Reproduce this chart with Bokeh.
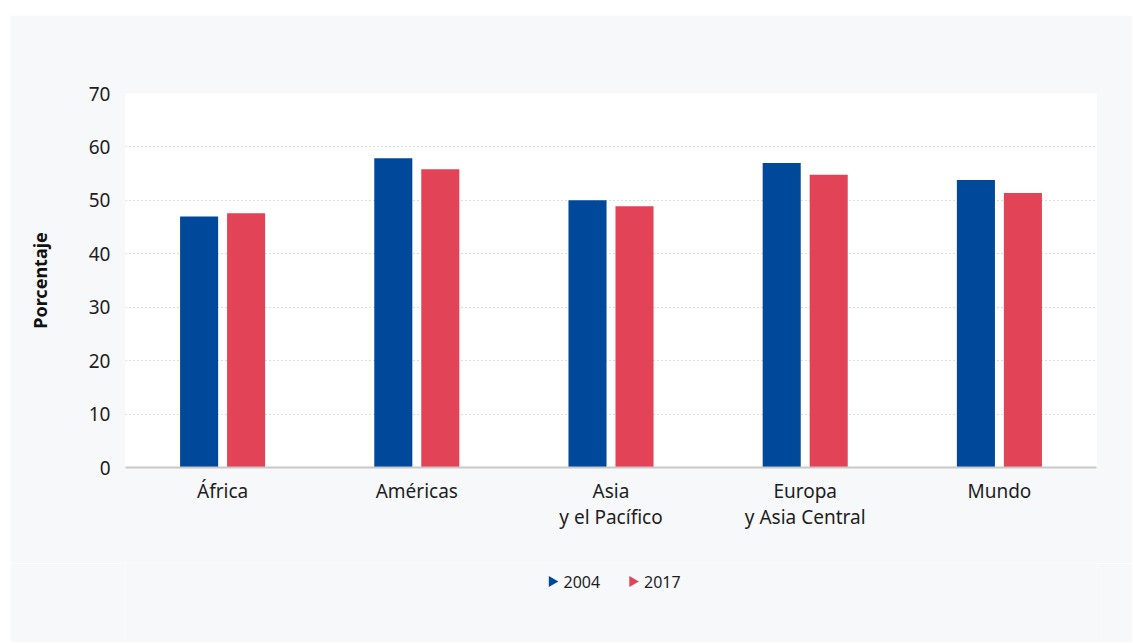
import math
from bokeh.plotting import figure
from bokeh.layouts import column
from bokeh.models import ColumnDataSource, FactorRange
from bokeh.core.properties import value
from bokeh.transform import dodge
from bokeh.embed import file_html
from bokeh.resources import INLINE

regions = ["África", "Américas", "Asia\ny el Pacífico", "Europa\ny Asia Central", "Mundo"]
v2004 = [47.0, 57.9, 50.0, 57.0, 53.8]
v2017 = [47.6, 55.8, 48.9, 54.8, 51.4]
series = ["2004", "2017"]
colors = ["#00489a", "#e34356"]
yticks = [0, 10, 20, 30, 40, 50, 60, 70]

src = ColumnDataSource(dict(region=regions, v2004=v2004, v2017=v2017))

FONT = "Noto Sans"
BG = "#f7f8fa"
TXT = "#1e1e1e"

p = figure(x_range=FactorRange(*regions), y_range=(0, 70),
           width=1122, height=548, output_backend="svg", toolbar_location=None,
           min_border_left=115, min_border_right=36, min_border_top=78, min_border_bottom=96)
p.background_fill_color = "white"
p.border_fill_color = BG
p.outline_line_color = None

p.vbar(x=dodge("region", -0.121, range=p.x_range), top="v2004", width=0.196,
       source=src, color=colors[0], line_color=None)
p.vbar(x=dodge("region", 0.121, range=p.x_range), top="v2017", width=0.196,
       source=src, color=colors[1], line_color=None)

p.xgrid.grid_line_color = None
p.ygrid.grid_line_color = "#b8b8b8"
p.ygrid.grid_line_dash = "1 3"
p.ygrid.grid_line_width = 1
p.yaxis.ticker = yticks

p.yaxis.axis_line_color = None
p.yaxis.major_tick_line_color = None
p.yaxis.minor_tick_line_color = None
p.yaxis.major_tick_out = 0
p.yaxis.minor_tick_out = 0
p.yaxis.major_label_text_font = FONT
p.yaxis.major_label_text_font_size = "19px"
p.yaxis.major_label_text_color = TXT
p.yaxis.major_label_standoff = 15
p.yaxis.axis_label = "Porcentaje"
p.yaxis.axis_label_text_font = FONT
p.yaxis.axis_label_text_font_size = "18px"
p.yaxis.axis_label_text_font_style = "bold"
p.yaxis.axis_label_text_color = "#111111"
p.yaxis.axis_label_standoff = 34

p.xaxis.axis_line_color = "#c8c8c8"
p.xaxis.axis_line_width = 2
p.xaxis.major_tick_line_color = None
p.xaxis.minor_tick_line_color = None
p.xaxis.major_tick_out = 0
p.xaxis.minor_tick_out = 0
p.xaxis.major_label_text_font = FONT
p.xaxis.major_label_text_font_size = "19px"
p.xaxis.major_label_text_color = TXT
p.xaxis.major_label_text_line_height = 1.0
p.xaxis.major_label_standoff = 10

# legend strip below: pixel-unit ranges so the legend layout is in screen px
LEG_W, LEG_H = 971, 79
leg = figure(width=1122, height=LEG_H, output_backend="svg", toolbar_location=None,
             x_range=(0, LEG_W), y_range=(0, LEG_H),
             min_border_left=115, min_border_right=36, min_border_top=0, min_border_bottom=0)
leg.axis.visible = False
leg.grid.visible = False
leg.outline_line_color = None
leg.background_fill_color = BG
leg.border_fill_color = BG

leg_x0 = 426.5      # first swatch centre (px)
leg_step = 80.5     # distance between items (px)
leg_y = 61          # item centre from strip bottom (px)
sw_x = [leg_x0 + i * leg_step for i in range(len(series))]
lab_x = [x + 11.5 for x in sw_x]
leg_src = ColumnDataSource(dict(sx=sw_x, lx=lab_x, y=[leg_y] * len(series),
                                label=series, color=colors))
leg.scatter(x="sx", y="y", marker="triangle", size=11, angle=-math.pi / 2,
            fill_color="color", line_color=None, source=leg_src)
leg.text(x="lx", y="y", text="label", source=leg_src, text_font=value(FONT),
         text_font_size="16px", text_color=TXT, text_baseline="middle", text_align="left")

layout = column(p, leg, spacing=0)
layout.margin = (15, 0, 0, 10)

open("out.html", "w").write(file_html(layout, INLINE))
